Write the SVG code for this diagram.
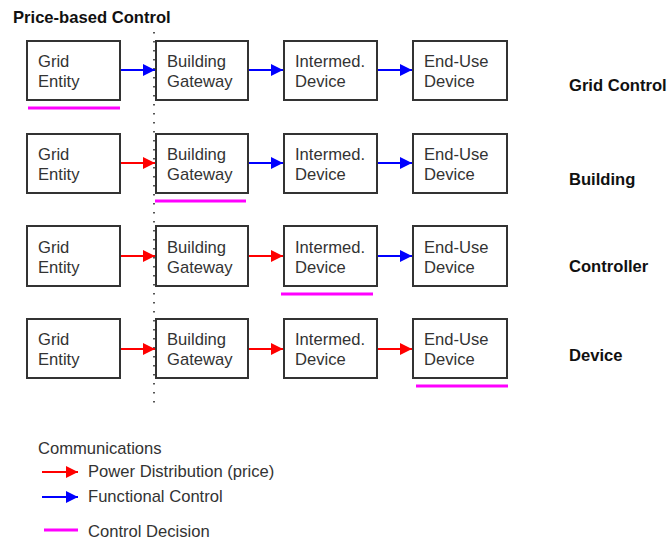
<svg xmlns="http://www.w3.org/2000/svg" width="669" height="540" viewBox="0 0 669 540">
<style>
.box{fill:#fff;stroke:#333;stroke-width:2}
.t{font-family:"Liberation Sans",Arial,sans-serif;font-size:16.6px;fill:#333}
.b{font-family:"Liberation Sans",Arial,sans-serif;font-size:16.6px;font-weight:bold;fill:#111}
.r{stroke:#f00;stroke-width:2;fill:none;marker-end:url(#ar)}
.u{stroke:#00f;stroke-width:2;fill:none;marker-end:url(#au)}
.m{stroke:#f0f;stroke-width:3;fill:none}
</style>
<defs>
<marker id="ar" viewBox="0 0 10 10" refX="10" refY="5" markerWidth="12" markerHeight="12" markerUnits="userSpaceOnUse" orient="auto"><path d="M0,0L10,5L0,10z" fill="#f00"/></marker>
<marker id="au" viewBox="0 0 10 10" refX="10" refY="5" markerWidth="12" markerHeight="12" markerUnits="userSpaceOnUse" orient="auto"><path d="M0,0L10,5L0,10z" fill="#00f"/></marker>
</defs>
<rect width="669" height="540" fill="#fff"/>
<text class="b" x="13" y="23">Price-based Control</text>
<line x1="154" y1="32" x2="154" y2="408" stroke="#555" stroke-width="2" stroke-dasharray="1.5 7.5"/>
<g id="row1">
<g id="r1-grid"><rect class="box" x="27" y="41" width="93" height="59"/><text class="t" x="38" y="67">Grid</text><text class="t" x="38" y="87">Entity</text></g>
<g id="r1-bg"><rect class="box" x="156" y="41" width="92" height="59"/><text class="t" x="167" y="67">Building</text><text class="t" x="167" y="87">Gateway</text></g>
<g id="r1-int"><rect class="box" x="284" y="41" width="93" height="59"/><text class="t" x="295" y="67">Intermed.</text><text class="t" x="295" y="87">Device</text></g>
<g id="r1-end"><rect class="box" x="413" y="41" width="94" height="59"/><text class="t" x="424" y="67">End-Use</text><text class="t" x="424" y="87">Device</text></g>
<text class="b" x="569" y="91">Grid Control</text>
</g>
<g id="row2">
<g id="r2-grid"><rect class="box" x="27" y="134" width="93" height="59"/><text class="t" x="38" y="160">Grid</text><text class="t" x="38" y="180">Entity</text></g>
<g id="r2-bg"><rect class="box" x="156" y="134" width="92" height="59"/><text class="t" x="167" y="160">Building</text><text class="t" x="167" y="180">Gateway</text></g>
<g id="r2-int"><rect class="box" x="284" y="134" width="93" height="59"/><text class="t" x="295" y="160">Intermed.</text><text class="t" x="295" y="180">Device</text></g>
<g id="r2-end"><rect class="box" x="413" y="134" width="94" height="59"/><text class="t" x="424" y="160">End-Use</text><text class="t" x="424" y="180">Device</text></g>
<text class="b" x="569" y="185">Building</text>
</g>
<g id="row3">
<g id="r3-grid"><rect class="box" x="27" y="226" width="93" height="60"/><text class="t" x="38" y="253">Grid</text><text class="t" x="38" y="273">Entity</text></g>
<g id="r3-bg"><rect class="box" x="156" y="226" width="92" height="60"/><text class="t" x="167" y="253">Building</text><text class="t" x="167" y="273">Gateway</text></g>
<g id="r3-int"><rect class="box" x="284" y="226" width="93" height="60"/><text class="t" x="295" y="253">Intermed.</text><text class="t" x="295" y="273">Device</text></g>
<g id="r3-end"><rect class="box" x="413" y="226" width="94" height="60"/><text class="t" x="424" y="253">End-Use</text><text class="t" x="424" y="273">Device</text></g>
<text class="b" x="569" y="272">Controller</text>
</g>
<g id="row4">
<g id="r4-grid"><rect class="box" x="27" y="319" width="93" height="59"/><text class="t" x="38" y="345">Grid</text><text class="t" x="38" y="365">Entity</text></g>
<g id="r4-bg"><rect class="box" x="156" y="319" width="92" height="59"/><text class="t" x="167" y="345">Building</text><text class="t" x="167" y="365">Gateway</text></g>
<g id="r4-int"><rect class="box" x="284" y="319" width="93" height="59"/><text class="t" x="295" y="345">Intermed.</text><text class="t" x="295" y="365">Device</text></g>
<g id="r4-end"><rect class="box" x="413" y="319" width="94" height="59"/><text class="t" x="424" y="345">End-Use</text><text class="t" x="424" y="365">Device</text></g>
<text class="b" x="569" y="361">Device</text>
</g>
<g id="connectors">
<line class="u" x1="121" y1="70" x2="155" y2="70"/>
<line class="u" x1="249" y1="70" x2="283" y2="70"/>
<line class="u" x1="378" y1="70" x2="412" y2="70"/>
<line class="r" x1="121" y1="163" x2="155" y2="163"/>
<line class="u" x1="249" y1="163" x2="283" y2="163"/>
<line class="u" x1="378" y1="163" x2="412" y2="163"/>
<line class="r" x1="121" y1="256" x2="155" y2="256"/>
<line class="r" x1="249" y1="256" x2="283" y2="256"/>
<line class="u" x1="378" y1="256" x2="412" y2="256"/>
<line class="r" x1="121" y1="349" x2="155" y2="349"/>
<line class="r" x1="249" y1="349" x2="283" y2="349"/>
<line class="r" x1="378" y1="349" x2="412" y2="349"/>
<line class="m" x1="28" y1="108" x2="120" y2="108"/>
<line class="m" x1="155" y1="201" x2="246" y2="201"/>
<line class="m" x1="281" y1="294" x2="373" y2="294"/>
<line class="m" x1="416" y1="386" x2="508" y2="386"/>
</g>
<g id="legend">
<text class="t" x="38" y="454">Communications</text>
<line class="r" x1="42" y1="472" x2="78" y2="472"/>
<text class="t" x="88" y="477">Power Distribution (price)</text>
<line class="u" x1="42" y1="497" x2="78" y2="497"/>
<text class="t" x="88" y="502">Functional Control</text>
<line class="m" x1="44" y1="530" x2="78" y2="530"/>
<text class="t" x="88" y="537">Control Decision</text>
</g>
</svg>
